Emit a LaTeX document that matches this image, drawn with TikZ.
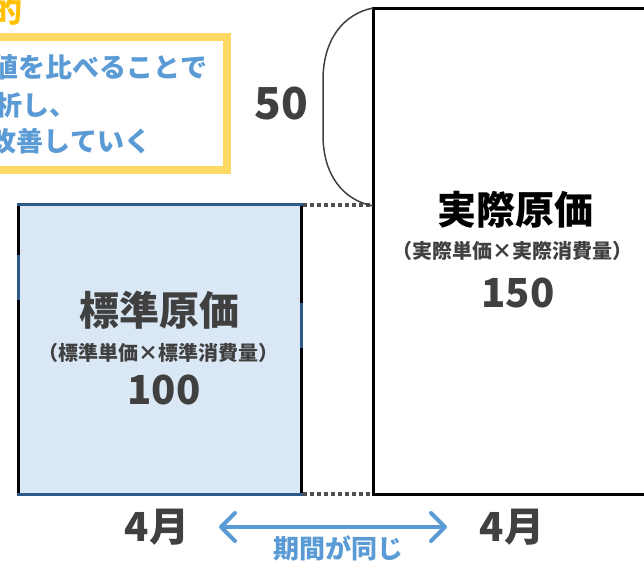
\documentclass[tikz,border=0pt]{standalone}
\usepackage{fontspec}
\setmainfont{Noto Sans CJK JP}
\usetikzlibrary{arrows.meta}
\definecolor{gold}{HTML}{FFC000}
\definecolor{boxyellow}{HTML}{FFD966}
\definecolor{txtblue}{HTML}{5B9BD5}
\definecolor{dgray}{HTML}{404040}
\definecolor{lightblue}{HTML}{DAE8F5}
\definecolor{darkblue}{HTML}{2E5A87}
\definecolor{dotgray}{HTML}{505050}
\newcommand{\fsz}[1]{\fontsize{#1}{#1}\selectfont\bfseries}
\begin{document}
\begin{tikzpicture}[x=1pt,y=-1pt,
  lbl/.style={inner sep=0pt, outer sep=0pt},
  border/.style={line width=3pt},
  dotline/.style={line width=3.2pt, dotgray, dash pattern=on 3.5pt off 3.5pt},
  bluearrow/.style={line width=4pt, txtblue, {Straight Barb[length=14pt,width=28pt,line cap=round,line join=round]}-{Straight Barb[length=14pt,width=28pt,line cap=round,line join=round]}}
]
\useasboundingbox (0,0) rectangle (644,561);
\clip (0,0) rectangle (644,561);

% heading fragment
\node[lbl, text=gold] (title) at (7,11) {\fsz{31}的};

% yellow box
\node[lbl, draw=boxyellow, line width=8pt, minimum width=250pt, minimum height=132.5pt] (goal) at (101.5,103.75) {};
\node[lbl, anchor=east, text=txtblue] (g1) at (207,67) {\fsz{27}値を比べることで};
\node[lbl, anchor=west, text=txtblue] (g2) at (-5,105) {\fsz{27}析し、};
\node[lbl, anchor=west, text=txtblue] (g3) at (-10,141) {\fsz{27}改善していく};

% standard cost rectangle
\node[lbl, fill=lightblue, minimum width=283pt, minimum height=289pt] (std) at (159.5,349.5) {};
\draw[border, black] (std.north west) -- (std.south west);
\draw[border, black] (std.north east) -- (std.south east);
\draw[border, darkblue] (18,255) -- (18,300);
\draw[border, darkblue] (301,303) -- (301,348);
\draw[border, darkblue] ([xshift=-1.5pt]std.north west) -- ([xshift=1.5pt]std.north east);
\draw[border, darkblue] ([xshift=-1.5pt]std.south west) -- ([xshift=1.5pt]std.south east);

% actual cost rectangle
\node[lbl, minimum width=330pt, minimum height=485pt] (act) at (538,251.5) {};
\draw[border, black] (act.north east) -- (act.north west) -- (act.south west) -- (act.south east);

% dotted connectors
\draw[dotline] ([xshift=2pt]std.north east) -- ([xshift=-2pt]act.west |- std.north);
\draw[dotline] ([xshift=2pt]std.south east) -- ([xshift=-2pt]act.south west);

% bracket for difference
\coordinate (bt) at (373,8);
\coordinate (bb) at (373,206);
\draw[line width=1.5pt, dgray] (bt) .. controls (343,14) and (323,40) .. (323,80)
  -- (323,135) .. controls (323,175) and (343,200) .. (bb);
\node[lbl, text=dgray] (diff) at (281,104) {\fsz{44}50};

% texts in rectangles
\node[lbl, text=dgray] (stdt) at (159,310) {\fsz{40}標準原価};
\node[lbl, text=dgray] (stdf) at (158,353) {\fsz{20}（標準単価×標準消費量）};
\node[lbl, text=dgray] (stdv) at (164,390) {\fsz{40}100};

\node[lbl, text=black] (actt) at (515,210) {\fsz{39}実際原価};
\node[lbl, text=dgray] (actf) at (512,251) {\fsz{20}（実際単価×実際消費量）};
\node[lbl, text=dgray] (actv) at (518,293) {\fsz{40}150};

% months and arrow
\node[lbl, text=dgray] (m1) at (157,527) {\fsz{40}4月};
\node[lbl, text=dgray] (m2) at (512,527) {\fsz{40}4月};
\coordinate (al) at (219,527);
\coordinate (ar) at (447,527);
\draw[bluearrow] (al) -- (ar);
\node[lbl, text=txtblue] (same) at (338,548) {\fsz{26}期間が同じ};
\end{tikzpicture}
\end{document}
